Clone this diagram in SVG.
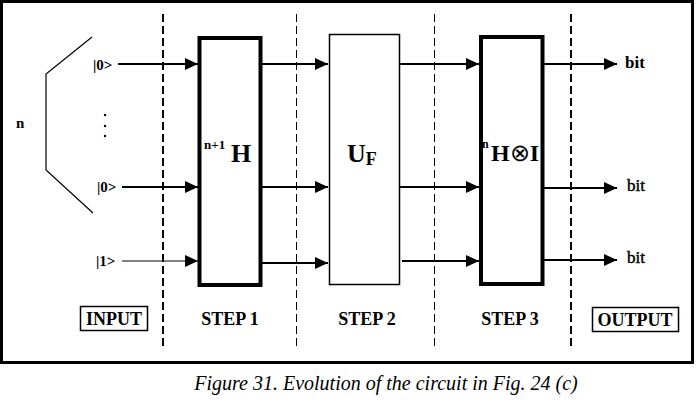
<svg xmlns="http://www.w3.org/2000/svg" width="697" height="403" viewBox="0 0 697 403">
<style>
.t{font-family:"Liberation Serif","Times New Roman",serif;fill:#000}
.b{font-weight:bold}
.ln{stroke:#000;fill:none}
.dash{stroke:#000;fill:none;stroke-dasharray:8 4}
.semi{font-weight:normal;stroke:#000;stroke-width:0.45}
</style>
<defs>
<marker id="ah" markerUnits="userSpaceOnUse" markerWidth="14" markerHeight="14" refX="13" refY="6" orient="auto" viewBox="0 0 14 12">
<path d="M0,0 L13,6 L0,12 Z" fill="#000"/>
</marker>
</defs>
<rect width="697" height="403" fill="#fff"/>
<rect x="1.5" y="1.5" width="691" height="361" fill="none" stroke="#000" stroke-width="3"/>
<g id="dividers">
<line class="dash" x1="163" y1="14" x2="163" y2="350" stroke-width="2"/>
<line class="dash" x1="296.5" y1="14" x2="296.5" y2="350" stroke-width="1"/>
<line class="dash" x1="434.5" y1="14" x2="434.5" y2="350" stroke-width="1"/>
<line class="dash" x1="571" y1="14" x2="571" y2="350" stroke-width="2"/>
</g>
<g id="input-bracket">
<polyline class="ln" points="92,37 46,74 46,170 93,213" stroke-width="1.2"/>
<text class="t b" x="16" y="128" font-size="15">n</text>
<circle cx="105" cy="115" r="1.2" fill="#000"/>
<circle cx="105" cy="126" r="1.2" fill="#000"/>
<circle cx="105" cy="136" r="1.2" fill="#000"/>
</g>
<g id="inputs">
<text class="t b" x="93" y="70" font-size="15">|0&gt;</text>
<text class="t b" x="97" y="192" font-size="15">|0&gt;</text>
<text class="t b" x="96" y="266" font-size="15">|1&gt;</text>
</g>
<g id="step1-H">
<rect x="199.5" y="38" width="61" height="247" fill="#fff" stroke="#000" stroke-width="4"/>
<text class="t b" x="204" y="149" font-size="13">n+1</text>
<text class="t b" x="231" y="162" font-size="26">H</text>
</g>
<g id="step2-UF">
<rect x="329.5" y="34.5" width="70" height="250" fill="#fff" stroke="#000" stroke-width="1.5"/>
<text class="t b" x="347" y="162" font-size="26">U<tspan font-size="18" dy="3">F</tspan></text>
</g>
<g id="step3-HI">
<rect x="481" y="37" width="61.5" height="247" fill="#fff" stroke="#000" stroke-width="4"/>
<text class="t b" x="482" y="148" font-size="12">n</text>
<text class="t b" x="491" y="161" font-size="24">H<tspan font-weight="normal">⊗</tspan>I</text>
</g>
<g id="connectors">
<line class="ln" x1="118" y1="64" x2="198" y2="64" stroke-width="2" marker-end="url(#ah)"/>
<line class="ln" x1="122" y1="187" x2="198" y2="187" stroke-width="2" marker-end="url(#ah)"/>
<line class="ln" x1="122" y1="261" x2="198" y2="261" stroke-width="1" marker-end="url(#ah)"/>
<line class="ln" x1="262" y1="64" x2="328" y2="64" stroke-width="2" marker-end="url(#ah)"/>
<line class="ln" x1="262" y1="187" x2="328" y2="187" stroke-width="2" marker-end="url(#ah)"/>
<line class="ln" x1="262" y1="263" x2="328" y2="263" stroke-width="2" marker-end="url(#ah)"/>
<line class="ln" x1="400" y1="64" x2="479" y2="64" stroke-width="2" marker-end="url(#ah)"/>
<line class="ln" x1="400" y1="187" x2="479" y2="187" stroke-width="2" marker-end="url(#ah)"/>
<line class="ln" x1="402" y1="261" x2="479" y2="261" stroke-width="2" marker-end="url(#ah)"/>
<line class="ln" x1="544" y1="64" x2="617" y2="64" stroke-width="2" marker-end="url(#ah)"/>
<line class="ln" x1="544" y1="188" x2="617" y2="188" stroke-width="2" marker-end="url(#ah)"/>
<line class="ln" x1="544" y1="260" x2="617" y2="260" stroke-width="2" marker-end="url(#ah)"/>
</g>
<g id="outputs">
<text class="t b" x="625" y="68" font-size="17">bit</text>
<text class="t semi" x="627" y="191" font-size="17">bit</text>
<text class="t semi" x="627" y="263" font-size="17">bit</text>
</g>
<g id="label-input">
<rect x="80.5" y="306.5" width="67" height="24" fill="none" stroke="#000" stroke-width="1.5"/>
<text class="t b" x="114" y="325" font-size="18" text-anchor="middle">INPUT</text>
</g>
<g id="labels-steps">
<text class="t b" x="230" y="325" font-size="18" text-anchor="middle">STEP 1</text>
<text class="t b" x="367" y="325" font-size="18" text-anchor="middle">STEP 2</text>
<text class="t b" x="510" y="325" font-size="18" text-anchor="middle">STEP 3</text>
</g>
<g id="label-output">
<rect x="592.5" y="307.5" width="86" height="24" fill="none" stroke="#000" stroke-width="1.5"/>
<text class="t b" x="635" y="326" font-size="18" text-anchor="middle">OUTPUT</text>
</g>
<text class="t" x="386" y="390" font-size="20" font-style="italic" text-anchor="middle">Figure 31. Evolution of the circuit in Fig. 24 (c)</text>
</svg>
